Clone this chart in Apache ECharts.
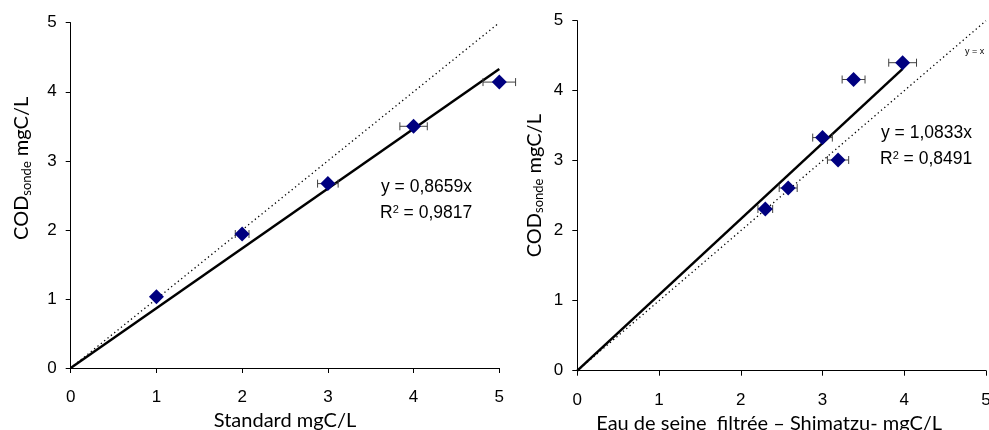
<!DOCTYPE html>
<html><head><meta charset="utf-8">
<script src="https://cdn.jsdelivr.net/npm/echarts@6/dist/echarts.min.js"></script>
<style>html,body{margin:0;padding:0;background:#fff}#c{width:989px;height:430px}</style>
</head><body><div id="c"></div>
<script>
// Left panel: Standard
const leftX = [1, 2, 3, 4, 5];
const leftY = [1.03, 1.94, 2.67, 3.50, 4.14];
const leftErr = [0.03, 0.08, 0.12, 0.16, 0.19];
const leftSlope = 0.8659;
const leftR2 = '0,9817';
// Right panel: Eau de seine filtrée
const rightX = [2.30, 2.58, 3.00, 3.19, 3.38, 3.98];
const rightY = [2.31, 2.61, 3.33, 3.01, 4.16, 4.40];
const rightErr = [0.09, 0.11, 0.12, 0.13, 0.14, 0.17];
const rightSlope = 1.0833;
const rightR2 = '0,8491';
const rightFitMaxX = 3.98;
const axisTicks = [0, 1, 2, 3, 4, 5];

const tickFont = 'Liberation Sans, Arial, sans-serif';
const nameFont = 'Lato, Open Sans, sans-serif';

function zip(xs, ys){ return xs.map((x,i)=>[x, ys[i]]); }

function errSeries(xs, ys, es, idx){
  return {
    type: 'custom', xAxisIndex: idx, yAxisIndex: idx, z: 3,
    data: xs.map((x,i)=>[x, ys[i], es[i]]),
    renderItem: function(params, api){
      const x = api.value(0), y = api.value(1), e = api.value(2);
      const p1 = api.coord([x - e, y]);
      const p2 = api.coord([x + e, y]);
      const h = 4;
      const st = {stroke: '#404040', lineWidth: 1};
      return {type: 'group', children: [
        {type:'line', shape:{x1:p1[0], y1:p1[1], x2:p2[0], y2:p2[1]}, style: st},
        {type:'line', shape:{x1:p1[0], y1:p1[1]-h, x2:p1[0], y2:p1[1]+h}, style: st},
        {type:'line', shape:{x1:p2[0], y1:p2[1]-h, x2:p2[0], y2:p2[1]+h}, style: st}
      ]};
    }
  };
}

function xAxis(idx, name, pad){
  return {
    type: 'value', gridIndex: idx, min: 0, max: 5, interval: 1,
    name: name, nameLocation: 'middle', nameGap: 43,
    nameTextStyle: {fontFamily: nameFont, fontSize: 20, color: '#000', padding: pad},
    axisLine: {lineStyle: {color: '#000', width: 1}},
    axisTick: {show: true, length: 5, lineStyle: {color: '#000'}},
    axisLabel: {fontFamily: tickFont, fontSize: 17, color: '#000', margin: 21},
    splitLine: {show: false}
  };
}
function yAxis(idx, gap, pad){
  return {
    type: 'value', gridIndex: idx, min: 0, max: 5, interval: 1,
    name: '{a|COD}{b|sonde}{a| mgC/L}', nameLocation: 'middle', nameGap: gap,
    nameTextStyle: {
      fontFamily: nameFont, fontSize: 20, color: '#000', padding: pad,
      rich: {
        a: {fontFamily: nameFont, fontSize: 20, color: '#000', lineHeight: 24},
        b: {fontFamily: nameFont, fontSize: 13, color: '#000', padding: [10, 0, 0, 0], lineHeight: 24}
      }
    },
    axisLine: {show: true, lineStyle: {color: '#000', width: 1}},
    axisTick: {show: true, length: 5, lineStyle: {color: '#000'}},
    axisLabel: {fontFamily: tickFont, fontSize: 17, color: '#000', margin: 14},
    splitLine: {show: false}
  };
}

const chart = echarts.init(document.getElementById('c'), null, {renderer: 'canvas'});
const dotStyle = {color: '#000', width: 1.3, type: [1.3, 3]};
const option = {
  backgroundColor: '#fff',
  animation: false,
  grid: [
    {left: 70.7, right: 489.7, top: 22.7, bottom: 62, containLabel: false, outerBoundsMode: 'none'},
    {left: 577.3, right: 3, top: 20.7, bottom: 59.3, containLabel: false, outerBoundsMode: 'none'}
  ],
  xAxis: [xAxis(0, 'Standard mgC/L', [0,0,0,0]), xAxis(1, 'Eau de seine  filtrée – Shimatzu- mgC/L', [0,25,0,0])],
  yAxis: [yAxis(0, 37, [0,0,0,54]), yAxis(1, 31, [0,0,0,20])],
  series: [
    {type: 'line', xAxisIndex: 0, yAxisIndex: 0, data: [[0,0],[5,5]], symbol: 'none',
     lineStyle: dotStyle, z: 1},
    {type: 'line', xAxisIndex: 0, yAxisIndex: 0, data: [[0,0],[5,5*leftSlope]], symbol: 'none',
     lineStyle: {color: '#000', width: 2.5}, z: 2},
    errSeries(leftX, leftY, leftErr, 0),
    {type: 'scatter', xAxisIndex: 0, yAxisIndex: 0, data: zip(leftX, leftY), symbol: 'diamond',
     symbolSize: 15, itemStyle: {color: '#000080', opacity: 1}, z: 4},
    {type: 'line', xAxisIndex: 1, yAxisIndex: 1, data: [[0,0],[5,5]], symbol: 'none',
     lineStyle: dotStyle, z: 1},
    {type: 'line', xAxisIndex: 1, yAxisIndex: 1, data: [[0,0],[rightFitMaxX, rightFitMaxX*rightSlope]], symbol: 'none',
     lineStyle: {color: '#000', width: 2.5}, z: 2},
    errSeries(rightX, rightY, rightErr, 1),
    {type: 'scatter', xAxisIndex: 1, yAxisIndex: 1, data: zip(rightX, rightY), symbol: 'diamond',
     symbolSize: 15, itemStyle: {color: '#000080', opacity: 1}, z: 4}
  ],
  graphic: [
    {type: 'text', left: 381, top: 178, style: {text: 'y = ' + String(leftSlope).replace('.', ',') + 'x', font: '17.5px Liberation Sans', fill: '#000'}},
    {type: 'text', left: 380, top: 204, style: {text: '{t|R}{s|2}{t| = ' + leftR2 + '}', rich: {t: {font: '17.5px Liberation Sans', fill: '#000'}, s: {font: '11px Liberation Sans', fill: '#000', padding: [0,0,8,0]}}}},
    {type: 'text', left: 881, top: 124, style: {text: 'y = ' + String(rightSlope).replace('.', ',') + 'x', font: '17.5px Liberation Sans', fill: '#000'}},
    {type: 'text', left: 880, top: 150, style: {text: '{t|R}{s|2}{t| = ' + rightR2 + '}', rich: {t: {font: '17.5px Liberation Sans', fill: '#000'}, s: {font: '11px Liberation Sans', fill: '#000', padding: [0,0,8,0]}}}},
    {type: 'text', left: 965, top: 47, style: {text: 'y = x', font: '9px Liberation Sans', fill: '#000'}}
  ]
};
chart.setOption(option);
</script></body></html>
